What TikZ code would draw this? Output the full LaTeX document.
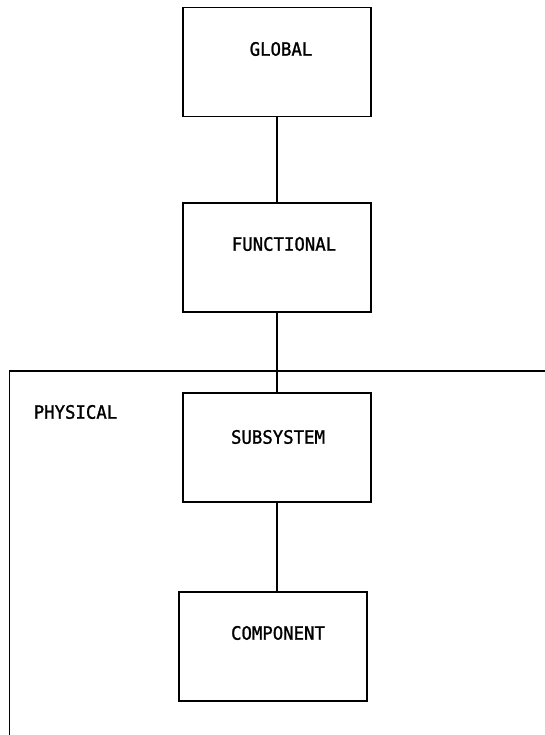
\documentclass[tikz,border=0pt]{standalone}
\usepackage{fontspec}
\newfontfamily\labelfont[FakeStretch=0.94,FakeBold=1.2]{DejaVu Sans Mono}
\begin{document}
\begin{tikzpicture}[x=1bp,y=-1bp,
  level/.style={draw, line width=1.5bp, minimum width=188bp, minimum height=109bp, inner sep=0pt},
  caption/.style={font=\labelfont\fontsize{18.5}{20}\selectfont, inner sep=0pt},
  link/.style={line width=1.5bp}]
  \useasboundingbox (0,0) rectangle (545,735);

  % boxes of the hierarchy
  \node[level] (global)     at (277,62)  {};
  \node[level] (functional) at (277,257.5) {};
  \node[level] (subsystem)  at (277,447.5) {};
  \node[level] (component)  at (273,646.5) {};

  % labels inside the boxes
  \node[caption] (tglobal) at (281,49)  {GLOBAL};
  \node[caption] (tfunc)   at (284,244) {FUNCTIONAL};
  \node[caption] (tsub)    at (278,437) {SUBSYSTEM};
  \node[caption] (tcomp)   at (278,633) {COMPONENT};

  % open frame of the physical level
  \coordinate (frameright) at (545,371);
  \coordinate (frametopleft) at (9.5,371);
  \coordinate (framebottom) at (9.5,735);
  \draw[link] (frameright) -- (frametopleft) -- (framebottom);
  \node[caption] (tphys) at (75.5,412) {PHYSICAL};

  % connectors between levels
  \draw[link] (global.south) -- (functional.north);
  \draw[link] (functional.south) -- (subsystem.north);
  \draw[link] (subsystem.south) -- (subsystem.south |- component.north);
\end{tikzpicture}
\end{document}
